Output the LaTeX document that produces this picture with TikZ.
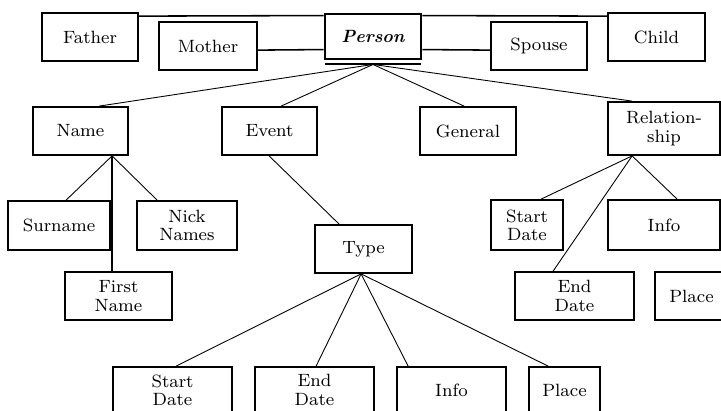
\documentclass[tikz,border=0pt]{standalone}
\usetikzlibrary{calc}
\begin{document}
\begin{tikzpicture}[x=0.45pt,y=-0.45pt,
  box/.style={draw,line width=0.8pt,inner sep=0pt,align=center,font=\fontsize{8}{8.2}\selectfont},
  sz/.style 2 args={minimum width=#1*0.45pt,minimum height=#2*0.45pt},
  personbox/.style={box,line width=1.3pt},
  conn/.style={line width=0.4pt},
  tconn/.style={line width=0.7pt},
  vconn/.style={line width=0.75pt}]
\useasboundingbox (0,0) rectangle (721,411);
% top row
\node[box,sz={96}{48}] (father) at (90,37) {Father};
\node[box,sz={98}{48}] (mother) at (208,46) {Mother};
\node[personbox,sz={96}{45}] (person) at (373,36.5) {\bfseries\itshape Person};
\node[box,sz={96}{48}] (spouse) at (539,46) {Spouse};
\node[box,sz={97}{48}] (child) at (656.5,37) {Child};
\draw[line width=0.5pt] ($(person.south west)+(1,3.5)$) -- ($(person.south east)+(-1,3.5)$);
% second row
\node[box,sz={95}{48}] (name) at (80.5,131) {Name};
\node[box,sz={95}{48}] (event) at (269.5,131) {Event};
\node[box,sz={96}{48}] (general) at (468,131) {General};
\node[box,sz={112}{53}] (rel) at (664,128.5) {Relation-\\ship};
% third row
\node[box,sz={102}{49}] (surname) at (59,225.5) {Surname};
\node[box,sz={100}{49}] (nick) at (187,225.5) {Nick\\Names};
\node[box,sz={107}{48}] (first) at (118.5,296) {First\\Name};
\node[box,sz={97}{48}] (type) at (363.5,249) {Type};
\node[box,sz={72}{50}] (relstart) at (527,225) {Start\\Date};
\node[box,sz={112}{50}] (relinfo) at (664,225) {Info};
\node[box,sz={119}{48}] (relend) at (574.5,296) {End\\Date};
\node[box,sz={73}{48}] (relplace) at (691.5,296) {Place};
% bottom row
\node[box,sz={119}{46}] (start) at (172.5,390) {Start\\Date};
\node[box,sz={119}{46}] (end) at (314.5,390) {End\\Date};
\node[box,sz={109}{46}] (info) at (451.5,390) {Info};
\node[box,sz={71}{46}] (place) at (564.5,390) {Place};
% top connectors
\draw[tconn] ($(father.north east)+(0,4)$) -- ($(person.north west)+(0,3)$);
\draw[tconn] ($(person.north east)+(0,3)$) -- ($(child.north west)+(0,4)$);
\draw[tconn] ($(mother.north east)+(0,29)$) -- ($(person.north west)+(0,37)$);
\draw[tconn] ($(person.north east)+(0,37)$) -- ($(spouse.north west)+(0,29)$);
% person to second row
\coordinate (pb) at ($(person.south)+(0,4)$);
\draw[conn] (pb) -- ($(name.north west)+(67,0)$);
\draw[conn] (pb) -- ($(event.north west)+(60,0)$);
\draw[conn] (pb) -- ($(general.north west)+(45,0)$);
\draw[conn] (pb) -- ($(rel.north west)+(25,0)$);
% name
\coordinate (nb) at ($(name.south west)+(80,0)$);
\draw[conn] (nb) -- ($(surname.north west)+(59,0)$);
\draw[conn] (nb) -- ($(nick.north west)+(21,0)$);
\draw[vconn] (nb) -- (nb |- first.north);
% event
\draw[conn] ($(event.south west)+(48,0)$) -- ($(type.north west)+(25,0)$);
% relationship
\coordinate (rb) at ($(rel.south west)+(25,0)$);
\draw[conn] (rb) -- ($(relstart.north west)+(51,0)$);
\draw[conn] (rb) -- ($(relinfo.north west)+(70,0)$);
\draw[conn] (rb) -- ($(relend.north west)+(39,0)$);
% type
\coordinate (tb) at ($(type.south west)+(47,0)$);
\draw[conn] (tb) -- ($(start.north west)+(64,0)$);
\draw[conn] (tb) -- ($(end.north west)+(62,0)$);
\draw[conn] (tb) -- ($(info.north west)+(12,0)$);
\draw[conn] (tb) -- ($(place.north west)+(20,0)$);
\end{tikzpicture}
\end{document}
